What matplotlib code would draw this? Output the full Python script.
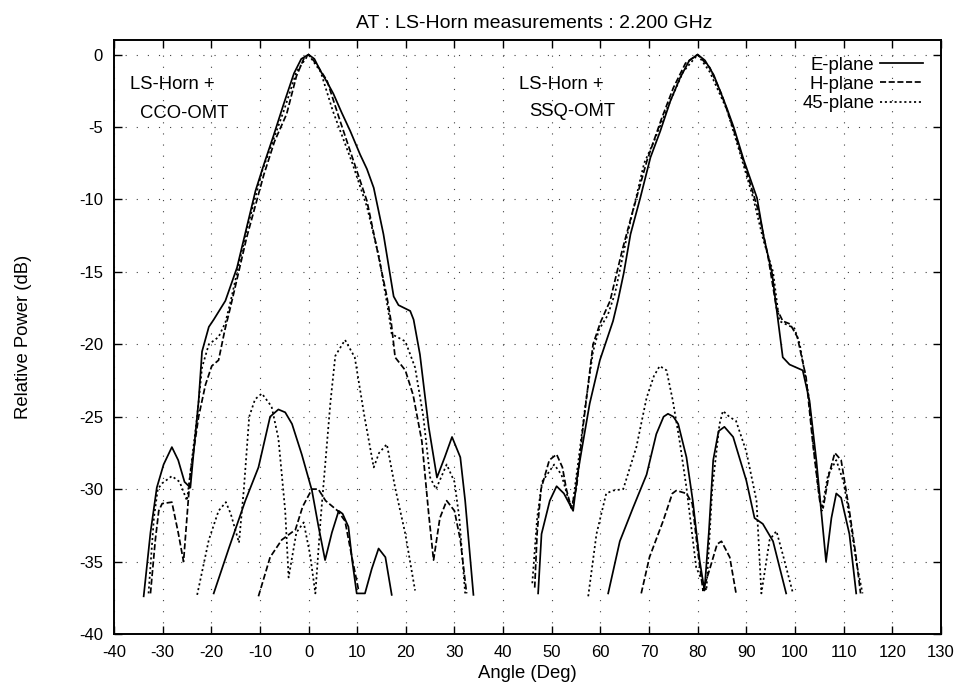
import matplotlib
matplotlib.use("Agg")
import matplotlib.pyplot as plt
import numpy as np

plt.rcParams['font.family'] = ['Liberation Sans', 'DejaVu Sans']
plt.rcParams['axes.unicode_minus'] = False
t_size = 12    #tick labels
f_size = 13.3  #labels, legend, annotations

## data (angle in deg, relative power in dB)

# LS-Horn + CCO-OMT, co-polar
cco_e_x = [-33.9, -32.5, -31.2, -29.8, -28.1, -26.8, -25.5, -24.3, -23.5, -22.6, -21.9, -20.5, -19.5, -17.1,
           -14.7, -12.7, -10.9, -9.2, -7.2, -5.1, -3.0, -1.5, 0.0, 1.2, 2.4, 3.8, 5.1, 6.8, 8.6, 10.6, 12.0,
           13.4, 15.4, 17.5, 18.5, 20.9, 21.6, 22.9, 24.7, 26.4, 28.0, 29.5, 31.2, 32.2, 33.9]
cco_e_y = [-37.4, -33.0, -29.9, -28.3, -27.1, -28.0, -29.5, -29.9, -27.0, -23.9, -20.5, -18.8, -18.3, -17.0,
           -14.7, -11.9, -9.4, -7.6, -5.6, -3.4, -1.3, -0.3, 0.0, -0.3, -1.1, -1.9, -2.7, -4.0, -5.3, -6.9, -7.9,
           -9.2, -12.4, -16.7, -17.3, -17.7, -18.3, -20.7, -25.7, -29.2, -27.8, -26.4, -27.8, -30.8, -37.3]
cco_h_x = [-32.5, -31.5, -30.8, -30.1, -28.1, -26.8, -25.7, -24.3, -22.6, -21.2, -19.9, -18.5, -17.2, -16.1,
           -15.4, -12.7, -9.2, -7.0, -4.5, -2.5, -1.0, 0.0, 1.5, 3.8, 6.5, 9.2, 12.0, 14.0, 16.1, 17.0, 17.8,
           19.9, 21.5, 23.3, 24.7, 25.7, 27.0, 28.4, 30.0, 31.2, 32.5]
cco_h_y = [-37.2, -33.5, -31.5, -31.0, -30.9, -33.0, -35.0, -28.9, -25.0, -22.8, -21.5, -21.1, -19.0, -17.5,
           -16.5, -12.6, -8.3, -6.0, -4.1, -1.5, -0.3, 0.0, -0.6, -1.8, -4.6, -7.3, -10.1, -13.3, -16.7, -18.5, -20.9,
           -21.8, -23.5, -26.7, -31.7, -34.9, -32.0, -30.8, -31.5, -33.5, -37.2]
cco_45_x = [-32.9, -31.8, -31.0, -30.1, -28.1, -26.5, -25.0, -24.0, -22.9, -21.9, -20.5, -18.5, -17.1, -16.0,
            -13.0, -9.5, -5.0, -2.5, 0.0, 2.5, 5.0, 9.0, 12.0, 14.5, 16.4, 17.1, 19.9, 21.9, 23.6, 25.0, 26.2,
            28.4, 30.0, 31.0, 32.2]
cco_45_y = [-37.2, -32.0, -30.0, -29.6, -29.1, -29.5, -30.8, -28.0, -25.0, -21.6, -20.0, -19.5, -18.5, -17.0,
            -12.5, -8.0, -3.8, -1.2, 0.0, -1.2, -3.9, -7.5, -10.5, -14.0, -17.7, -19.3, -19.8, -21.6, -25.0, -29.2, -30.0,
            -28.3, -29.5, -32.0, -37.2]

# LS-Horn + CCO-OMT, cross-polar
cco_xe_x = [-19.5, -16.3, -13.0, -10.3, -7.9, -6.2, -4.8, -3.4, -1.4, 0.7, 2.0, 3.4, 4.8, 6.2, 7.0, 8.2, 9.0,
            9.9, 11.6, 13.0, 14.4, 15.8, 17.1]
cco_xe_y = [-37.2, -34.0, -30.8, -28.5, -25.0, -24.5, -24.7, -25.5, -27.6, -30.1, -32.5, -34.9, -33.0, -31.5,
            -31.7, -32.6, -35.0, -37.2, -37.2, -35.5, -34.1, -34.7, -37.3]
cco_xh_x = [-10.3, -7.9, -5.5, -2.7, -1.2, 0.7, 2.0, 3.5, 6.0, 7.5, 8.8, 10.3]
cco_xh_y = [-37.4, -34.7, -33.5, -32.8, -31.2, -30.0, -30.0, -30.8, -31.5, -32.2, -34.5, -37.0]
cco_x45_x = [-22.9, -20.5, -18.5, -17.0, -16.0, -14.3, -13.3, -12.2, -11.0, -9.6, -7.6, -6.2, -4.8, -4.1, -2.5,
             -1.0, 0.3, 1.4, 2.5, 3.5, 4.5, 5.5, 7.5, 9.5, 11.5, 13.4, 14.5, 16.1, 17.8, 19.9, 21.9]
cco_x45_y = [-37.3, -33.5, -31.5, -30.9, -31.7, -33.7, -30.0, -25.0, -23.8, -23.4, -24.3, -26.5, -31.5, -36.1, -33.0,
             -32.3, -34.5, -37.2, -32.0, -28.0, -24.0, -20.8, -19.7, -20.9, -25.0, -28.5, -27.5, -26.9, -29.9, -33.1, -37.0]

# LS-Horn + SSQ-OMT, co-polar
ssq_e_x = [47.2, 47.9, 49.6, 51.0, 52.5, 54.4, 55.3, 56.1, 57.8, 59.9, 61.5, 62.6, 63.6, 64.8, 66.2, 68.2, 70.3,
           72.3, 74.4, 76.4, 78.3, 80.0, 81.5, 83.3, 86.0, 87.4, 89.5, 92.2, 93.6, 95.3, 96.2, 97.5, 98.9, 101.6,
           103.0, 104.4, 106.4, 107.5, 108.5, 109.5, 111.2, 112.6]
ssq_e_y = [-37.2, -33.1, -30.8, -29.8, -30.3, -31.5, -29.0, -27.4, -24.1, -21.1, -19.5, -18.4, -17.0, -15.1, -12.4,
           -9.9, -7.1, -5.3, -3.2, -1.6, -0.4, 0.0, -0.4, -1.4, -3.7, -5.0, -7.3, -9.9, -12.6, -15.1, -17.5, -20.9,
           -21.4, -21.8, -23.9, -28.0, -35.0, -32.0, -30.3, -30.6, -33.1, -37.2]
ssq_h_x = [46.5, 47.0, 47.8, 49.5, 51.0, 52.2, 53.0, 54.0, 55.1, 56.5, 58.5, 60.0, 62.0, 64.5, 66.5, 69.6, 72.5,
           75.0, 77.5, 80.0, 82.5, 85.0, 87.5, 90.0, 92.5, 94.5, 96.2, 97.5, 99.0, 100.5, 102.3, 103.7, 105.1,
           105.8, 107.0, 108.2, 109.5, 111.2, 112.5, 113.5]
ssq_h_y = [-36.8, -33.0, -30.0, -28.0, -27.6, -28.5, -30.0, -31.3, -29.9, -25.5, -20.0, -18.5, -17.0, -13.5, -11.0,
           -7.3, -4.5, -2.3, -0.6, 0.0, -0.9, -2.8, -5.3, -8.0, -10.8, -14.0, -17.5, -18.4, -18.6, -19.5, -22.3,
           -26.9, -30.8, -31.3, -29.0, -27.5, -28.0, -31.5, -34.5, -37.2]
ssq_45_x = [46.0, 47.0, 48.0, 50.5, 52.0, 53.5, 54.2, 55.5, 57.0, 58.5, 59.7, 61.5, 63.0, 65.5, 69.0, 71.0, 74.0,
            77.0, 80.0, 82.5, 86.0, 88.7, 91.5, 93.5, 95.5, 96.8, 99.9, 101.0, 102.8, 103.8, 104.8, 105.5, 106.8,
            108.5, 110.0, 111.5, 112.6, 113.9]
ssq_45_y = [-36.5, -32.0, -29.5, -28.3, -29.0, -30.8, -31.3, -28.0, -24.0, -20.5, -19.0, -18.0, -16.5, -12.5, -7.5,
            -6.0, -3.5, -1.2, 0.0, -1.2, -3.8, -6.8, -10.0, -12.8, -15.0, -18.4, -18.9, -20.0, -23.5, -27.0, -30.0,
            -31.5, -29.0, -28.0, -29.5, -32.5, -35.0, -37.2]

# LS-Horn + SSQ-OMT, cross-polar
ssq_xe_x = [61.6, 64.0, 66.7, 69.5, 71.5, 73.0, 73.9, 75.0, 76.0, 77.7, 79.0, 80.4, 81.4, 82.3, 83.2, 84.3, 85.5,
            87.3, 90.0, 91.7, 93.4, 95.5, 98.2]
ssq_xe_y = [-37.2, -33.6, -31.3, -29.0, -26.2, -25.0, -24.8, -25.0, -25.5, -27.8, -30.8, -34.9, -37.0, -33.0, -28.0,
            -26.0, -25.7, -26.4, -29.4, -32.0, -32.4, -33.6, -37.2]
ssq_xh_x = [68.4, 70.1, 72.9, 74.8, 75.6, 77.7, 78.9, 80.1, 81.1, 82.5, 84.0, 84.9, 86.6, 87.9]
ssq_xh_y = [-37.2, -34.7, -32.2, -30.3, -30.1, -30.3, -31.0, -34.5, -37.0, -35.5, -33.8, -33.6, -34.7, -37.2]
ssq_x45_x = [57.5, 59.2, 61.2, 62.6, 64.7, 67.4, 69.5, 71.0, 72.2, 73.6, 74.9, 76.3, 77.7, 79.7, 81.8, 83.0, 84.5,
             85.2, 86.5, 87.9, 90.0, 92.1, 93.1, 94.8, 96.2, 97.5, 99.6]
ssq_x45_y = [-37.4, -33.1, -30.3, -30.1, -30.0, -27.1, -23.7, -22.2, -21.5, -21.8, -23.9, -26.7, -29.9, -35.4, -37.0,
             -30.0, -25.5, -24.6, -25.0, -25.3, -27.4, -30.8, -37.2, -33.5, -32.9, -34.5, -37.2]

legend_labels = ["E-plane", "H-plane", "45-plane"]
x_ticks = np.arange(-40, 131, 10)
y_ticks = np.arange(-40, 1, 5)

# gnuplot like line types
ls_e = "-"
ls_h = (0, (3.5, 1.5))
ls_45 = (0, (1.2, 1.6))
lw = 1.25

fig = plt.figure(figsize=(9.62, 6.85), dpi=100)
ax = fig.add_axes([0.1185, 0.0745, 0.8595, 0.867])

# co-polar (first of each gets the legend entry)
ax.plot(cco_e_x, cco_e_y, color="k", ls=ls_e, lw=lw, label=legend_labels[0])
ax.plot(cco_h_x, cco_h_y, color="k", ls=ls_h, lw=lw, label=legend_labels[1])
ax.plot(cco_45_x, cco_45_y, color="k", ls=ls_45, lw=lw, label=legend_labels[2])
ax.plot(ssq_e_x, ssq_e_y, color="k", ls=ls_e, lw=lw)
ax.plot(ssq_h_x, ssq_h_y, color="k", ls=ls_h, lw=lw)
ax.plot(ssq_45_x, ssq_45_y, color="k", ls=ls_45, lw=lw)
# cross-polar
ax.plot(cco_xe_x, cco_xe_y, color="k", ls=ls_e, lw=lw)
ax.plot(cco_xh_x, cco_xh_y, color="k", ls=ls_h, lw=lw)
ax.plot(cco_x45_x, cco_x45_y, color="k", ls=ls_45, lw=lw)
ax.plot(ssq_xe_x, ssq_xe_y, color="k", ls=ls_e, lw=lw)
ax.plot(ssq_xh_x, ssq_xh_y, color="k", ls=ls_h, lw=lw)
ax.plot(ssq_x45_x, ssq_x45_y, color="k", ls=ls_45, lw=lw)

ax.set_xlim(-40, 130)
ax.set_ylim(-40, 1)
ax.set_xticks(x_ticks)
ax.set_yticks(y_ticks)
ax.tick_params(direction="in", length=6, width=1, top=True, right=True, labelsize=t_size, pad=8)
for s in ax.spines.values():
    s.set_linewidth(1.4)

#grid (sparse dots as in the scan)
ax.grid(True, color="0.25", ls=(0, (1, 9)), lw=0.8, zorder=0)

ax.text(-36.7, -2.07, "LS-Horn +", fontsize=f_size, va="center", ha="left")
ax.text(-34.6, -4.07, "CCO-OMT", fontsize=f_size, va="center", ha="left")
ax.text(43.3, -2.07, "LS-Horn +", fontsize=f_size, va="center", ha="left")
ax.text(45.4, -3.9, "SSQ-OMT", fontsize=f_size, va="center", ha="left")

ax.set_title("AT : LS-Horn measurements : 2.200 GHz", fontsize=14, pad=9, x=0.508)
ax.set_xlabel("Angle (Deg)", fontsize=f_size)
ax.set_ylabel("Relative Power (dB)", fontsize=f_size)
ax.xaxis.set_label_coords(0.5, -0.052)
ax.yaxis.set_label_coords(-0.099, 0.5)

ax.legend(loc="upper right", bbox_to_anchor=(0.978, 0.972), frameon=False, markerfirst=False,
          fontsize=f_size, handlelength=2.3, handletextpad=0.3, labelspacing=0.12,
          borderpad=0, borderaxespad=0)

fig.savefig("out.png", dpi=100)
